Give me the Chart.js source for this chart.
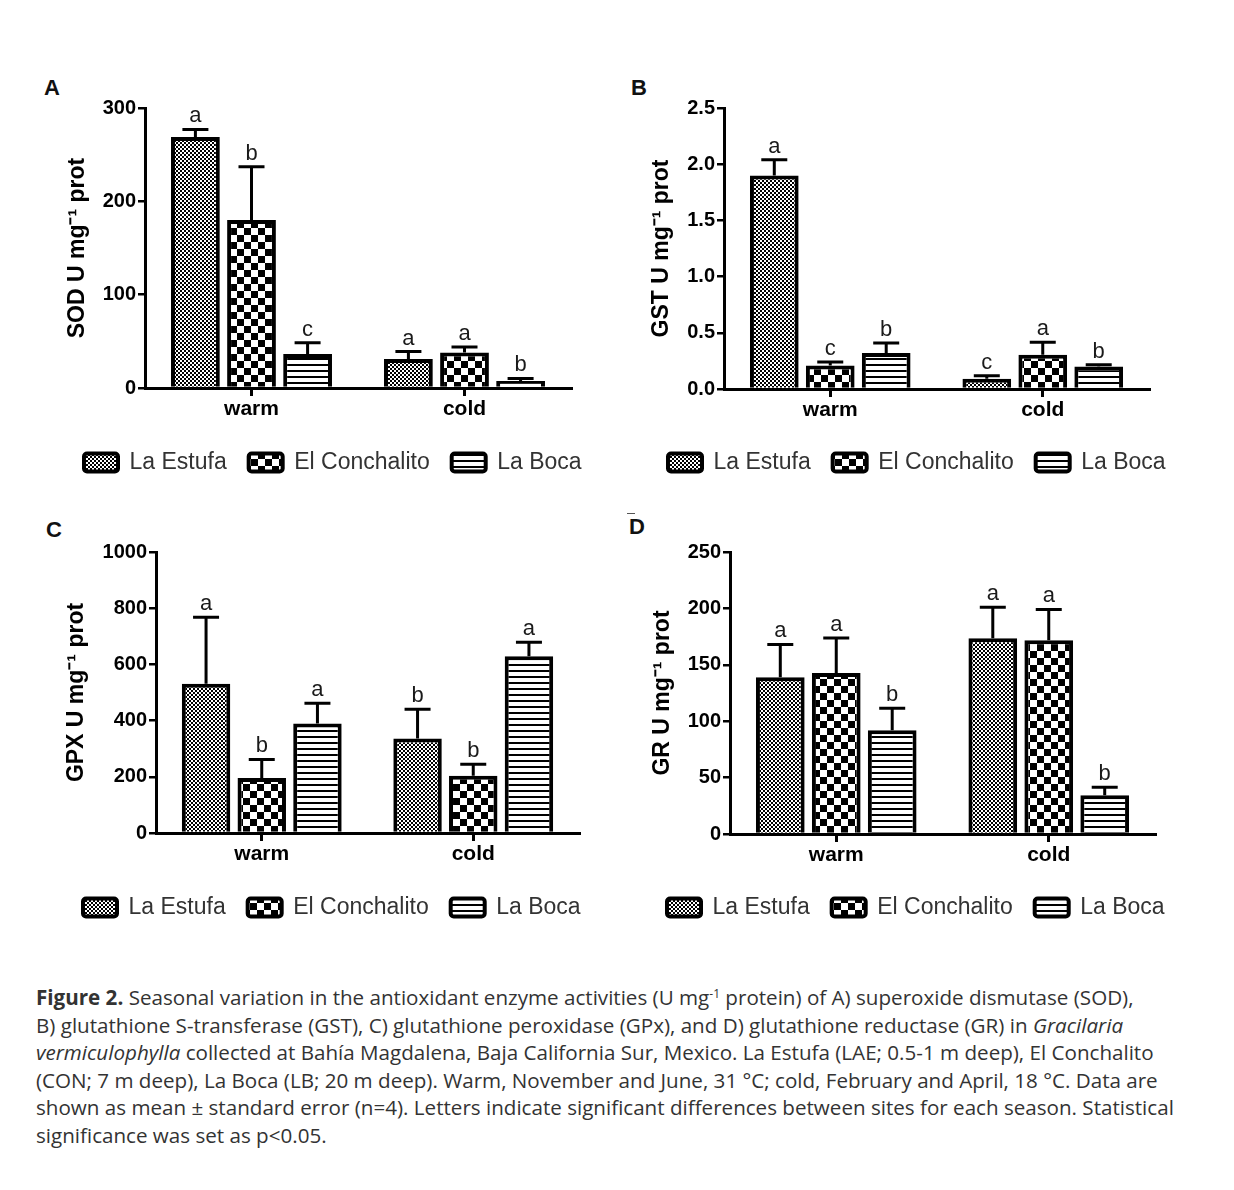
<!DOCTYPE html>
<html>
<head>
<meta charset="utf-8">
<script src="https://cdn.jsdelivr.net/npm/chart.js@4/dist/chart.umd.min.js"></script>
<style>
  body { margin:0; background:#fff; width:1234px; height:1190px; position:relative; }
  .panel { position:absolute; }
  .tag { position:absolute; font:bold 22px 'Liberation Sans', Arial, sans-serif; color:#111; }
  .caption { position:absolute; left:36px; top:984px; font-family:'Open Sans', sans-serif; font-size:20.6px; line-height:27.5px; color:#333; white-space:nowrap; }
  .caption sup { font-size:12px; vertical-align:7px; line-height:0; }
</style>
</head>
<body>
<div class="tag" style="left:44px;top:75px">A</div>
<div class="tag" style="left:631px;top:75px">B</div>
<div class="tag" style="left:46px;top:517px">C</div>
<div class="tag" style="left:629px;top:514px">D</div>
<div style="position:absolute;left:627px;top:513px;width:8px;height:1px;background:#555"></div>

<div class="panel" style="left:62px;top:88px"><canvas id="chart-sod" width="560" height="396"></canvas></div>
<div class="panel" style="left:646px;top:88px"><canvas id="chart-gst" width="560" height="396"></canvas></div>
<div class="panel" style="left:61px;top:532px"><canvas id="chart-gpx" width="560" height="397"></canvas></div>
<div class="panel" style="left:645px;top:532px"><canvas id="chart-gr" width="560" height="397"></canvas></div>

<div class="caption">
<b>Figure 2.</b> Seasonal variation in the antioxidant enzyme activities (U mg<sup>-1</sup> protein) of A) superoxide dismutase (SOD),<br>
B) glutathione S-transferase (GST), C) glutathione peroxidase (GPx), and D) glutathione reductase (GR) in <i>Gracilaria</i><br>
<i>vermiculophylla</i> collected at Bahía Magdalena, Baja California Sur, Mexico. La Estufa (LAE; 0.5-1 m deep), El Conchalito<br>
(CON; 7 m deep), La Boca (LB; 20 m deep). Warm, November and June, 31 °C; cold, February and April, 18 °C. Data are<br>
shown as mean ± standard error (n=4). Letters indicate significant differences between sites for each season. Statistical<br>
significance was set as p&lt;0.05.
</div>

<script>
// ===== DATA =====
const seasons = ['warm', 'cold'];
const sites = ['La Estufa', 'El Conchalito', 'La Boca'];

// rows follow `sites`, columns follow `seasons`
// A) SOD
const sodMeans = [[269, 31], [180, 38], [36.5, 7.6]];
const sodErrors = [[8, 8], [57, 6], [12, 2.6]];
const sodLetters = [['a', 'a'], ['b', 'a'], ['c', 'b']];
const sodTicks = [0, 100, 200, 300];

// B) GST
const gstMeans = [[1.90, 0.092], [0.21, 0.305], [0.32, 0.20]];
const gstErrors = [[0.14, 0.025], [0.03, 0.11], [0.09, 0.015]];
const gstLetters = [['a', 'c'], ['c', 'a'], ['b', 'b']];
const gstTicks = [0, 0.5, 1.0, 1.5, 2.0, 2.5];

// C) GPX
const gpxMeans = [[531, 336], [196, 204], [390, 629]];
const gpxErrors = [[237, 104], [66, 41], [72, 50]];
const gpxLetters = [['a', 'b'], ['b', 'b'], ['a', 'a']];
const gpxTicks = [0, 200, 400, 600, 800, 1000];

// D) GR
const grMeans = [[139, 173.6], [142.8, 171.8], [92, 34.4]];
const grErrors = [[29, 27.5], [31, 27.3], [19.5, 7]];
const grLetters = [['a', 'a'], ['a', 'a'], ['b', 'b']];
const grTicks = [0, 50, 100, 150, 200, 250];

// ===== FILL PATTERNS =====
function makePattern(w, h, draw) {
    const c = document.createElement('canvas');
    c.width = w; c.height = h;
    const g = c.getContext('2d');
    g.fillStyle = '#fff';
    g.fillRect(0, 0, w, h);
    g.fillStyle = '#000';
    draw(g);
    return g.createPattern(c, 'repeat');
}

const patterns = [
    // fine dither
    makePattern(4, 4, g => { g.fillRect(0, 0, 2, 2); g.fillRect(2, 2, 2, 2); }),
    // coarse checkerboard
    makePattern(14, 14, g => { g.fillRect(0, 0, 7, 7); g.fillRect(7, 7, 7, 7); }),
    // horizontal lines
    makePattern(6, 6, g => { g.fillRect(0, 0, 6, 2); }),
];

const FONT = "'Liberation Sans', Arial, sans-serif";

// error bars (upper only) + significance letters
const errorBars = {
    id: 'errorBars',
    afterDatasetsDraw(chart) {
        const { ctx } = chart;
        const y = chart.scales.y;
        ctx.save();
        chart.data.datasets.forEach((ds, i) => {
            chart.getDatasetMeta(i).data.forEach((bar, j) => {
                const top = y.getPixelForValue(ds.data[j] + ds.errors[j]);
                ctx.strokeStyle = '#000';
                ctx.lineWidth = 3;
                ctx.beginPath();
                ctx.moveTo(bar.x, bar.y);
                ctx.lineTo(bar.x, top);
                ctx.moveTo(bar.x - 13, top);
                ctx.lineTo(bar.x + 13, top);
                ctx.stroke();
                ctx.fillStyle = '#1a1a1a';
                ctx.font = `22px ${FONT}`;
                ctx.textAlign = 'center';
                ctx.textBaseline = 'alphabetic';
                ctx.fillText(ds.letters[j], bar.x, top - 7);
            });
        });
        ctx.restore();
    }
};

function buildPanel(id, means, errors, letters, ticks, title, d) {
    const ctx = document.getElementById(id);
    return new Chart(ctx, {
        type: 'bar',
        data: {
            labels: seasons,
            datasets: sites.map((site, i) => ({
                label: site,
                data: means[i],
                errors: errors[i],
                letters: letters[i],
                backgroundColor: patterns[i],
                borderColor: '#000',
                borderWidth: 4,
                categoryPercentage: 0.79,
                barPercentage: 0.87,
            }))
        },
        options: {
            responsive: false,
            animation: false,
            devicePixelRatio: 1,
            events: [],
            layout: { padding: { top: 20, left: 0, right: 0, bottom: 0 } },
            plugins: {
                tooltip: { enabled: false },
                legend: {
                    position: 'bottom',
                    align: 'start',
                    labels: {
                        boxWidth: 34, boxHeight: 18, padding: 22,
                        useBorderRadius: true, borderRadius: 3,
                        color: '#333',
                        font: { family: FONT, size: 23 },
                    }
                }
            },
            scales: {
                x: {
                    offset: true,
                    grid: { offset: false, drawOnChartArea: false, tickLength: 8, color: '#000', lineWidth: 3 },
                    border: { display: true, color: '#000', width: 3 },
                    ticks: { color: '#000', padding: 1, font: { family: FONT, size: 21, weight: 'bold' } },
                    afterFit: s => { s.height = d.xHeight; },
                },
                y: {
                    min: ticks[0], max: ticks[ticks.length - 1],
                    afterBuildTicks: s => { s.ticks = ticks.map(v => ({ value: v })); },
                    grid: { drawOnChartArea: false, tickLength: 7, color: '#000', lineWidth: 2.5 },
                    border: { display: true, color: '#000', width: 3 },
                    ticks: {
                        color: '#000', padding: 2,
                        font: { family: FONT, size: 20, weight: 'bold' },
                        callback: v => v.toFixed(d.decimals),
                    },
                    title: {
                        display: true, text: title, color: '#000',
                        padding: { top: d.titlePad, bottom: 0 },
                        font: { family: FONT, size: 23, weight: 'bold' },
                    },
                    afterFit: s => { s.width = d.yWidth; },
                },
                // empty right-hand axis: keeps room for the legend past the plot
                gap: {
                    position: 'right', display: true,
                    grid: { display: false }, border: { display: false }, ticks: { display: false },
                    afterFit: s => { s.width = d.rightGap; },
                }
            }
        },
        plugins: [errorBars]
    });
}

buildPanel('chart-sod', sodMeans, sodErrors, sodLetters, sodTicks, 'SOD U mg\u207B\u00B9 prot',
    { yWidth: 83, xHeight: 41, rightGap: 51, titlePad: 1.5, decimals: 0 });
buildPanel('chart-gst', gstMeans, gstErrors, gstLetters, gstTicks, 'GST U mg\u207B\u00B9 prot',
    { yWidth: 78, xHeight: 40, rightGap: 57, titlePad: 1.5, decimals: 1 });
buildPanel('chart-gpx', gpxMeans, gpxErrors, gpxLetters, gpxTicks, 'GPX U mg\u207B\u00B9 prot',
    { yWidth: 95, xHeight: 41, rightGap: 42, titlePad: 1.5, decimals: 0 });
buildPanel('chart-gr', grMeans, grErrors, grLetters, grTicks, 'GR U mg\u207B\u00B9 prot',
    { yWidth: 85, xHeight: 40, rightGap: 50, titlePad: 3.5, decimals: 0 });
</script>
</body>
</html>
